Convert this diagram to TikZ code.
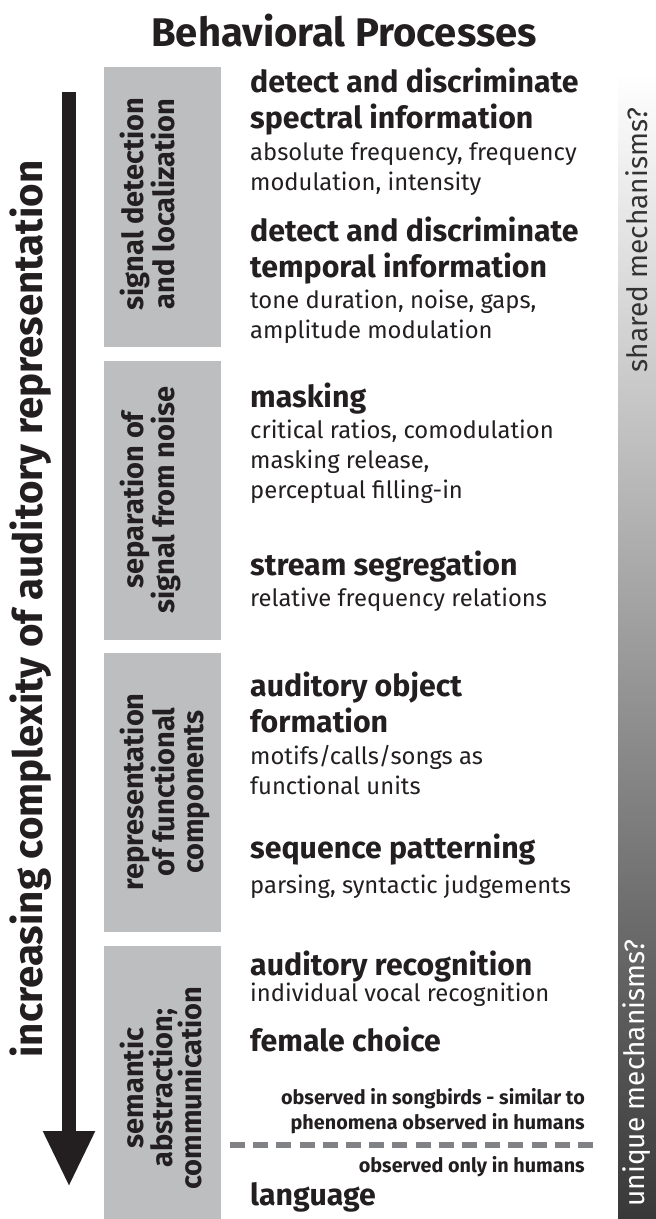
\documentclass[tikz,border=0pt]{standalone}
\usepackage{fontspec}
\setmainfont{Fira Sans}
\usepackage{tikz}
\usetikzlibrary{arrows.meta}
\tikzset{>=latex}
\definecolor{boxgray}{RGB}{188,190,192}
\definecolor{dashgray}{RGB}{128,130,133}
\definecolor{ink}{RGB}{35,31,32}
\tikzstyle{band} = [rectangle, fill=boxgray, minimum width=117pt, inner sep=0pt]
\tikzstyle{bandlabel} = [rotate=90, anchor=north, align=center, inner sep=0pt, text=ink, font=\bfseries\fontsize{29}{29}\selectfont]
\tikzstyle{head} = [anchor=base west, align=left, inner sep=0pt, text=ink, font=\bfseries\fontsize{30.3}{36}\selectfont]
\tikzstyle{desc} = [anchor=base west, align=left, inner sep=0pt, text=ink, font=\fontsize{23.8}{30}\selectfont]
\tikzstyle{note} = [anchor=base east, align=right, inner sep=0pt, text=ink, font=\bfseries\fontsize{19.8}{25}\selectfont]

\begin{document}
\begin{tikzpicture}[x=1pt, y=-1pt]
\useasboundingbox (0,0) rectangle (656,1219);
\node [anchor=base, inner sep=0pt, text=ink, font=\bfseries\fontsize{40}{44}\selectfont] (T) at (344,46) {Behavioral Processes};
% complexity axis
\node [rotate=90, text=ink, font=\bfseries\fontsize{40.3}{44}\selectfont] (C) at (31,609) {increasing complexity of auditory representation};
\coordinate (top) at (69,92);
\coordinate (tip) at (69,1187);
\draw [ink, line width=14pt, -{Triangle[width=48pt, length=56pt]}] (top) -- (tip);
% grey bands
\node [band, minimum height=280pt] (S) at (162.5,207) {};
\node [band, minimum height=279pt] (N) at (162.5,500.5) {};
\node [band, minimum height=279pt] (F) at (162.5,792.5) {};
\node [band, minimum height=273pt] (A) at (162.5,1082.5) {};
\node [bandlabel] (SL) at (120,204) {signal detection\\and localization};
\node [bandlabel] (NL) at (120,500) {separation of\\signal from noise};
\node [bandlabel] (FL) at (120,792) {representation\\of functional\\components};
\node [bandlabel] (AL) at (120,1088) {semantic\\abstraction;\\communication};
% mechanisms bar
\shade [top color=white, bottom color=black!78] (618,73) rectangle (656,1219);
\node [rotate=90, text=black!80, font=\fontsize{28}{30}\selectfont] (SM) at (637,240) {shared mechanisms?};
\node [rotate=90, text=white, font=\fontsize{28}{30}\selectfont] (UM) at (637,1073) {unique mechanisms?};
% processes
\node [head] (H1) at (250,128) {detect and discriminate\\spectral information};
\node [desc] (D1) at (250,190) {absolute frequency, frequency\\modulation, intensity};
\node [head] (H2) at (250,277) {detect and discriminate\\temporal information};
\node [desc] (D2) at (250,338) {tone duration, noise, gaps,\\amplitude modulation};
\node [head] (H3) at (250,407) {masking};
\node [desc] (D3) at (250,498) {critical ratios, comodulation\\masking release,\\perceptual filling-in};
\node [head] (H4) at (250,575) {stream segregation};
\node [desc] (D4) at (250,606) {relative frequency relations};
\node [head] (H5) at (250,732) {auditory object\\formation};
\node [desc] (D5) at (250,794) {motifs/calls/songs as\\functional units};
\node [head] (H6) at (250,858) {sequence patterning};
\node [desc] (D6) at (250,893) {parsing, syntactic judgements};
\node [head] (H7) at (250,975) {auditory recognition};
\node [desc] (D7) at (250,1001) {individual vocal recognition};
\node [head] (H8) at (250,1051) {female choice};
\node [note] (O1) at (585,1129) {observed in songbirds - similar to\\phenomena observed in humans};
\coordinate (dl) at (230,1145);
\coordinate (dr) at (593,1145);
\draw [dashgray, line width=6pt, dash pattern=on 15pt off 8.2pt] (dl) -- (dr);
\node [note] (O2) at (585,1172) {observed only in humans};
\node [head] (H9) at (250,1205) {language};
\end{tikzpicture}
\end{document}
